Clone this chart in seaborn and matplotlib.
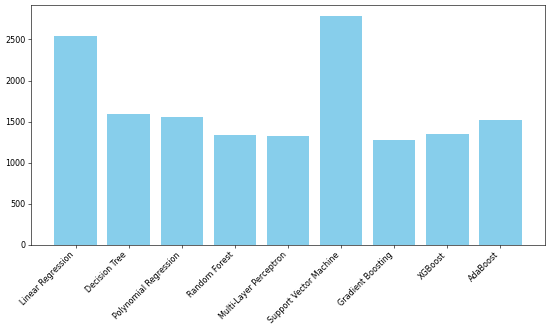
import matplotlib
matplotlib.use("Agg")
import matplotlib.pyplot as plt
import seaborn as sns
import pandas as pd

models = ["Linear Regression", "Decision Tree", "Polynomial Regression", "Random Forest",
          "Multi-Layer Perceptron", "Support Vector Machine", "Gradient Boosting",
          "XGBoost", "AdaBoost"]
values = [2541, 1598, 1554, 1339, 1327, 2780, 1278, 1351, 1521]

df = pd.DataFrame({"model": models, "value": values})

fig, ax = plt.subplots(figsize=(10, 325 / 55), dpi=55)
sns.barplot(data=df, x="model", y="value", color="skyblue", saturation=1, width=0.8, ax=ax)
n = len(models)
ax.set_xlim(-0.84, n - 1 + 0.84)
ax.set_xlabel("")
ax.set_ylabel("")
ax.tick_params(labelsize=10.5)
plt.setp(ax.get_xticklabels(), rotation=45, ha="right")
fig.subplots_adjust(left=31 / 550, right=545 / 550, top=1 - 5 / 325, bottom=1 - 245 / 325)
fig.savefig("out.png", dpi=55)
